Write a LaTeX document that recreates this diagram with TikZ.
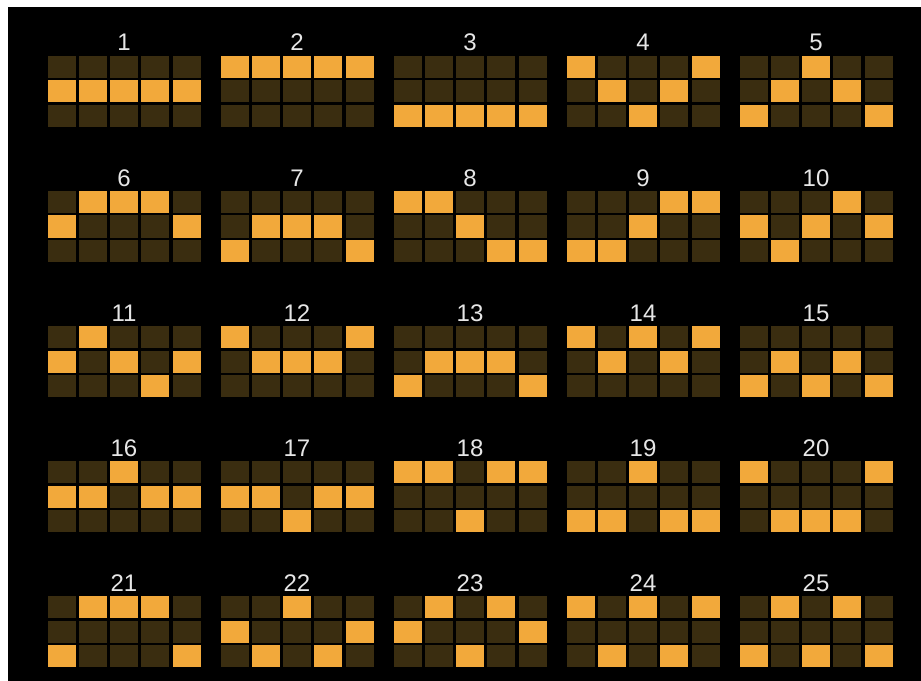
\documentclass[tikz,border=0pt]{standalone}
\usepackage{fontspec}
\setmainfont{Liberation Sans}
\definecolor{lineon}{HTML}{F2A93B}
\definecolor{lineoff}{HTML}{3A2D10}
\definecolor{labelgray}{HTML}{E6E6E6}
\begin{document}
\begin{tikzpicture}[x=0.75pt,y=-0.75pt,
  cellbox/.style={minimum width=21pt,minimum height=16.5pt,inner sep=0pt,outer sep=0pt,draw=none},
  numlabel/.style={text=labelgray,font=\fontsize{18}{20}\selectfont,anchor=base,inner sep=0pt}]
\useasboundingbox (0,0) rectangle (921,681);
\fill[white] (0,0) rectangle (921,681);
\fill[black] (8,7) rectangle (921,681);
\foreach \n/\a/\b/\c/\d/\e in {
  1/1/1/1/1/1, 2/0/0/0/0/0, 3/2/2/2/2/2, 4/0/1/2/1/0, 5/2/1/0/1/2,
  6/1/0/0/0/1, 7/2/1/1/1/2, 8/0/0/1/2/2, 9/2/2/1/0/0, 10/1/2/1/0/1,
  11/1/0/1/2/1, 12/0/1/1/1/0, 13/2/1/1/1/2, 14/0/1/0/1/0, 15/2/1/2/1/2,
  16/1/1/0/1/1, 17/1/1/2/1/1, 18/0/0/2/0/0, 19/2/2/0/2/2, 20/0/2/2/2/0,
  21/2/0/0/0/2, 22/1/2/0/2/1, 23/1/0/2/0/1, 24/0/2/0/2/0, 25/2/0/2/0/2}{
  \pgfmathtruncatemacro{\pcol}{mod(\n-1,5)}
  \pgfmathtruncatemacro{\prow}{(\n-1)/5}
  \pgfmathsetmacro{\xo}{47.5+173*\pcol}
  \pgfmathsetmacro{\yo}{56+135*\prow}
  \node[numlabel] (lab-\n) at (\xo+76.5,\yo-5) {\n};
  \foreach \v [count=\k from 0] in {\a,\b,\c,\d,\e}{
    \foreach \r in {0,1,2}{
      \ifnum\r=\v\relax\def\cellcol{lineon}\else\def\cellcol{lineoff}\fi
      \node[cellbox,fill=\cellcol] (cell-\n-\r-\k) at (\xo+31.25*\k+14,\yo+24.5*\r+11) {};
    }
  }
}
\end{tikzpicture}
\end{document}
